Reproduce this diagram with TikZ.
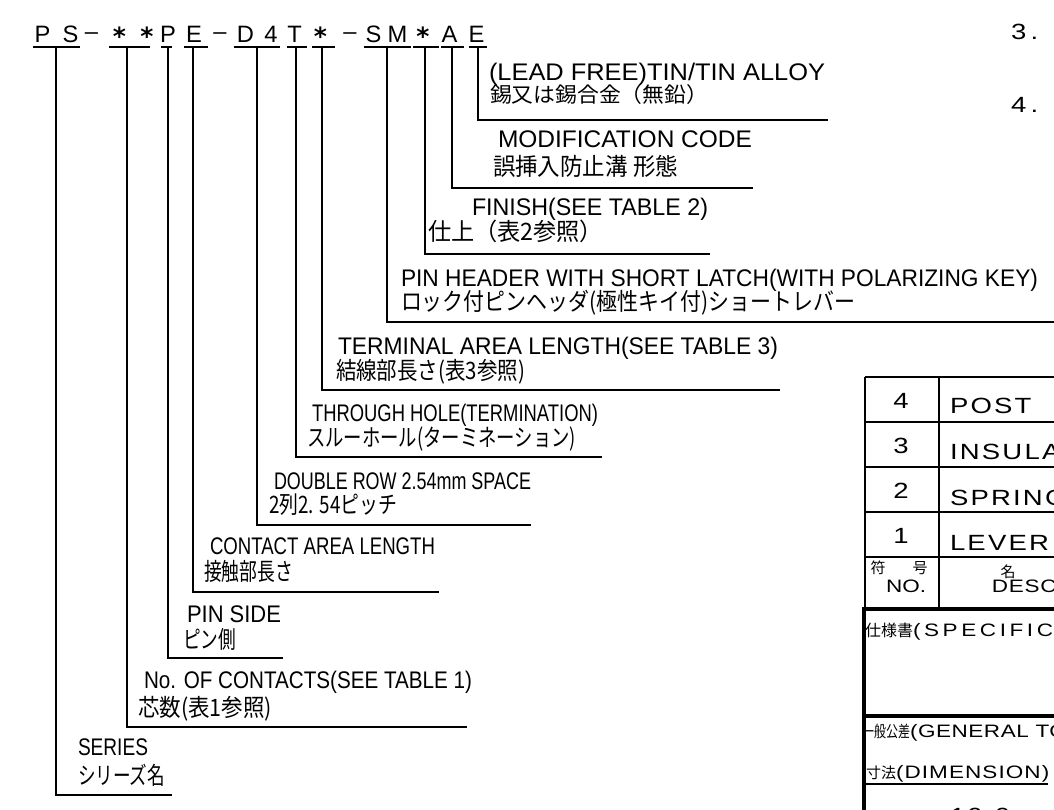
\documentclass[tikz,border=0pt]{standalone}
\usepackage{fontspec}
\setmainfont{Liberation Sans}
\newfontfamily\jp{Noto Sans CJK JP}
\newfontfamily\tbl[FakeStretch=1.25]{Liberation Sans}
\newfontfamily\dvs{DejaVu Sans}
\newcommand\fitw[2]{\resizebox{#1pt}{\height}{#2}}
\newcommand\lsp[1]{\addfontfeature{LetterSpace=#1}}
\begin{document}
\begin{tikzpicture}[x=1pt,y=-1pt,line width=1.8pt,
  lbl/.style={anchor=base west,inner sep=0pt,outer sep=0pt},
  en/.style={lbl,font=\fontsize{24}{24}\selectfont},
  ja/.style={lbl,font=\jp\fontsize{24}{24}\selectfont},
  hd/.style={anchor=base,inner sep=0pt,font=\fontsize{23.7}{24}\selectfont},
  ast/.style={anchor=center,inner sep=0pt,font=\dvs\bfseries\fontsize{25}{25}\selectfont},
  tnum/.style={anchor=base,inner sep=0pt,font=\tbl\fontsize{22}{22}\selectfont},
  tname/.style={lbl,font=\tbl\fontsize{22}{22}\selectfont\lsp{10}},
  tsmall/.style={anchor=base,inner sep=0pt,font=\tbl\fontsize{18}{18}\selectfont},
  tkan/.style={anchor=base,inner sep=0pt,font=\jp\fontsize{15}{15}\selectfont},
  thick/.style={line width=3.5pt}]
\useasboundingbox (0,0) rectangle (1054,809);
\fill[white] (0,0) rectangle (1054,809);
\clip (0,0) rectangle (1054,809);

% ---- part number code ----
\foreach \c/\x [count=\i] in {P/42.5,S/70.5,P/168,E/194,D/245.5,4/271,T/294.5,S/373.5,M/397.5,A/449.5,E/476.5}
  \node[hd] (L\i) at (\x,42) {\c};
\foreach \x [count=\i] in {119.5,147,320.5,423}
  \node[ast] (S\i) at (\x,36) {*};
\foreach \x [count=\i] in {91.5,220,350}
  \node[hd] (D\i) at (\x,39.5) {–};
\foreach \a/\b in {33/80,109/150,161/172,184/208,234/280,287/307,312/335,364/411,413/439,441/464,469/487}
  \draw (\a,47) -- (\b,47);

% ---- leader lines ----
\foreach \n/\vx/\hy/\hx in {A/478/120/828,B/452/188/753,C/425/254/710,D/387/322/1060,E/322/390/780,F/296/457/602,G/257/525/531,H/193/592/439,I/168/658/283,J/127/727/467,K/56/795/172}{
  \coordinate (top\n) at (\vx,47);
  \coordinate (end\n) at (\hx,\hy);
  \draw (top\n) |- (end\n);
}

% ---- labels ----
\node[en] (A1) at (489,80) {\fitw{336}{(LEAD FREE)TIN/TIN ALLOY}};
\node[ja,font=\jp\fontsize{21}{21}\selectfont] (A2) at (490,102) {\fitw{218}{錫又は錫合金（無鉛）}};
\node[en] (B1) at (498,147) {\fitw{254}{MODIFICATION CODE}};
\node[ja] (B2) at (493,175) {\fitw{185}{誤挿入防止溝 形態}};
\node[en] (C1) at (472,215) {\fitw{236}{FINISH(SEE TABLE 2)}};
\node[ja] (C2) at (428,240) {\fitw{175}{仕上（表2参照）}};
\node[en] (D1) at (401,286) {\fitw{637}{PIN HEADER WITH SHORT LATCH(WITH POLARIZING KEY)}};
\node[ja] (D2) at (401,310) {\fitw{454}{ロック付ピンヘッダ(極性キイ付)ショートレバー}};
\node[en] (E1) at (338,354) {\fitw{440}{TERMINAL AREA LENGTH(SEE TABLE 3)}};
\node[ja] (E2) at (336,379) {\fitw{189}{結線部長さ(表3参照)}};
\node[en] (F1) at (312,421) {\fitw{286}{THROUGH HOLE(TERMINATION)}};
\node[ja] (F2) at (307,446) {\fitw{269}{スルーホール(ターミネーション)}};
\node[en] (G1) at (274,489) {\fitw{257}{DOUBLE ROW 2.54mm SPACE}};
\node[ja] (G2) at (269,513) {\fitw{128}{2列2. 54ピッチ}};
\node[en] (H1) at (210,554) {\fitw{225}{CONTACT AREA LENGTH}};
\node[ja] (H2) at (204,580) {\fitw{89}{接触部長さ}};
\node[en] (I1) at (187,622) {\fitw{94}{PIN SIDE}};
\node[ja] (I2) at (183,648) {\fitw{53}{ピン側}};
\node[en] (J1) at (144,688) {\fitw{328}{No. OF CONTACTS(SEE TABLE 1)}};
\node[ja] (J2) at (138,716) {\fitw{134}{芯数(表1参照)}};
\node[en] (K1) at (78,755) {\fitw{70}{SERIES}};
\node[ja] (K2) at (78,784) {\fitw{87}{シリーズ名}};

% ---- notes top right ----
\node[lbl,font=\tbl\fontsize{22}{22}\selectfont] (n3) at (1011,39) {\lsp{20}3.};
\node[lbl,font=\tbl\fontsize{22}{22}\selectfont] (n4) at (1011,112) {\lsp{20}4.};

% ---- parts table ----
\draw (865,377) -- (1060,377);
\draw (865,377) -- (865,609);
\draw (939,377) -- (939,609);
\foreach \y in {422,467,512} \draw (865,\y) -- (1060,\y);
\draw[line width=2.5pt] (865,557) -- (1060,557);
\draw[thick] (862,609) -- (1060,609);
\draw[thick] (862,716) -- (1060,716);
\draw[line width=4pt] (864,607) -- (864,815);
\draw[line width=1.5pt] (865,784) -- (1048,784);

\foreach \d/\y [count=\i] in {4/377,3/422,2/467,1/512}{
  \node[tnum] (num\i) at (901,\y+31) {\d};
}
\node[tname] (nm1) at (950,413) {POST};
\node[tname] (nm2) at (950,459) {INSULATOR};
\node[tname] (nm3) at (950,505) {SPRING};
\node[tname] (nm4) at (950,550) {LEVER};

\node[tkan] (k1) at (878,573) {符};
\node[tkan] (k2) at (920,573) {号};
\node[tsmall] (no) at (906,592) {NO.};
\node[tkan] (k3) at (1008,577) {名};
\node[tsmall,anchor=base west] (desc) at (991,592) {\lsp{4}DESCRIPTION};

\node[lbl] (spec) at (865,636) {{\jp\fontsize{16}{16}\selectfont 仕様書}{\tbl\fontsize{18}{18}\selectfont\lsp{20}(SPECIFICATION)}};
\node[lbl] (gen) at (862,737) {{\jp\fontsize{16}{16}\selectfont\scalebox{0.75}[1]{一般公差}}{\tbl\fontsize{18}{18}\selectfont\lsp{3}(GENERAL TOLERANCE)}};
\node[lbl] (dim) at (866,778) {{\jp\fontsize{15}{15}\selectfont 寸法}{\tbl\fontsize{18}{18}\selectfont\lsp{6}(DIMENSION)}};
\node[lbl,font=\tbl\fontsize{22}{22}\selectfont] (val) at (950,823) {\lsp{10}10.0};
\end{tikzpicture}
\end{document}
